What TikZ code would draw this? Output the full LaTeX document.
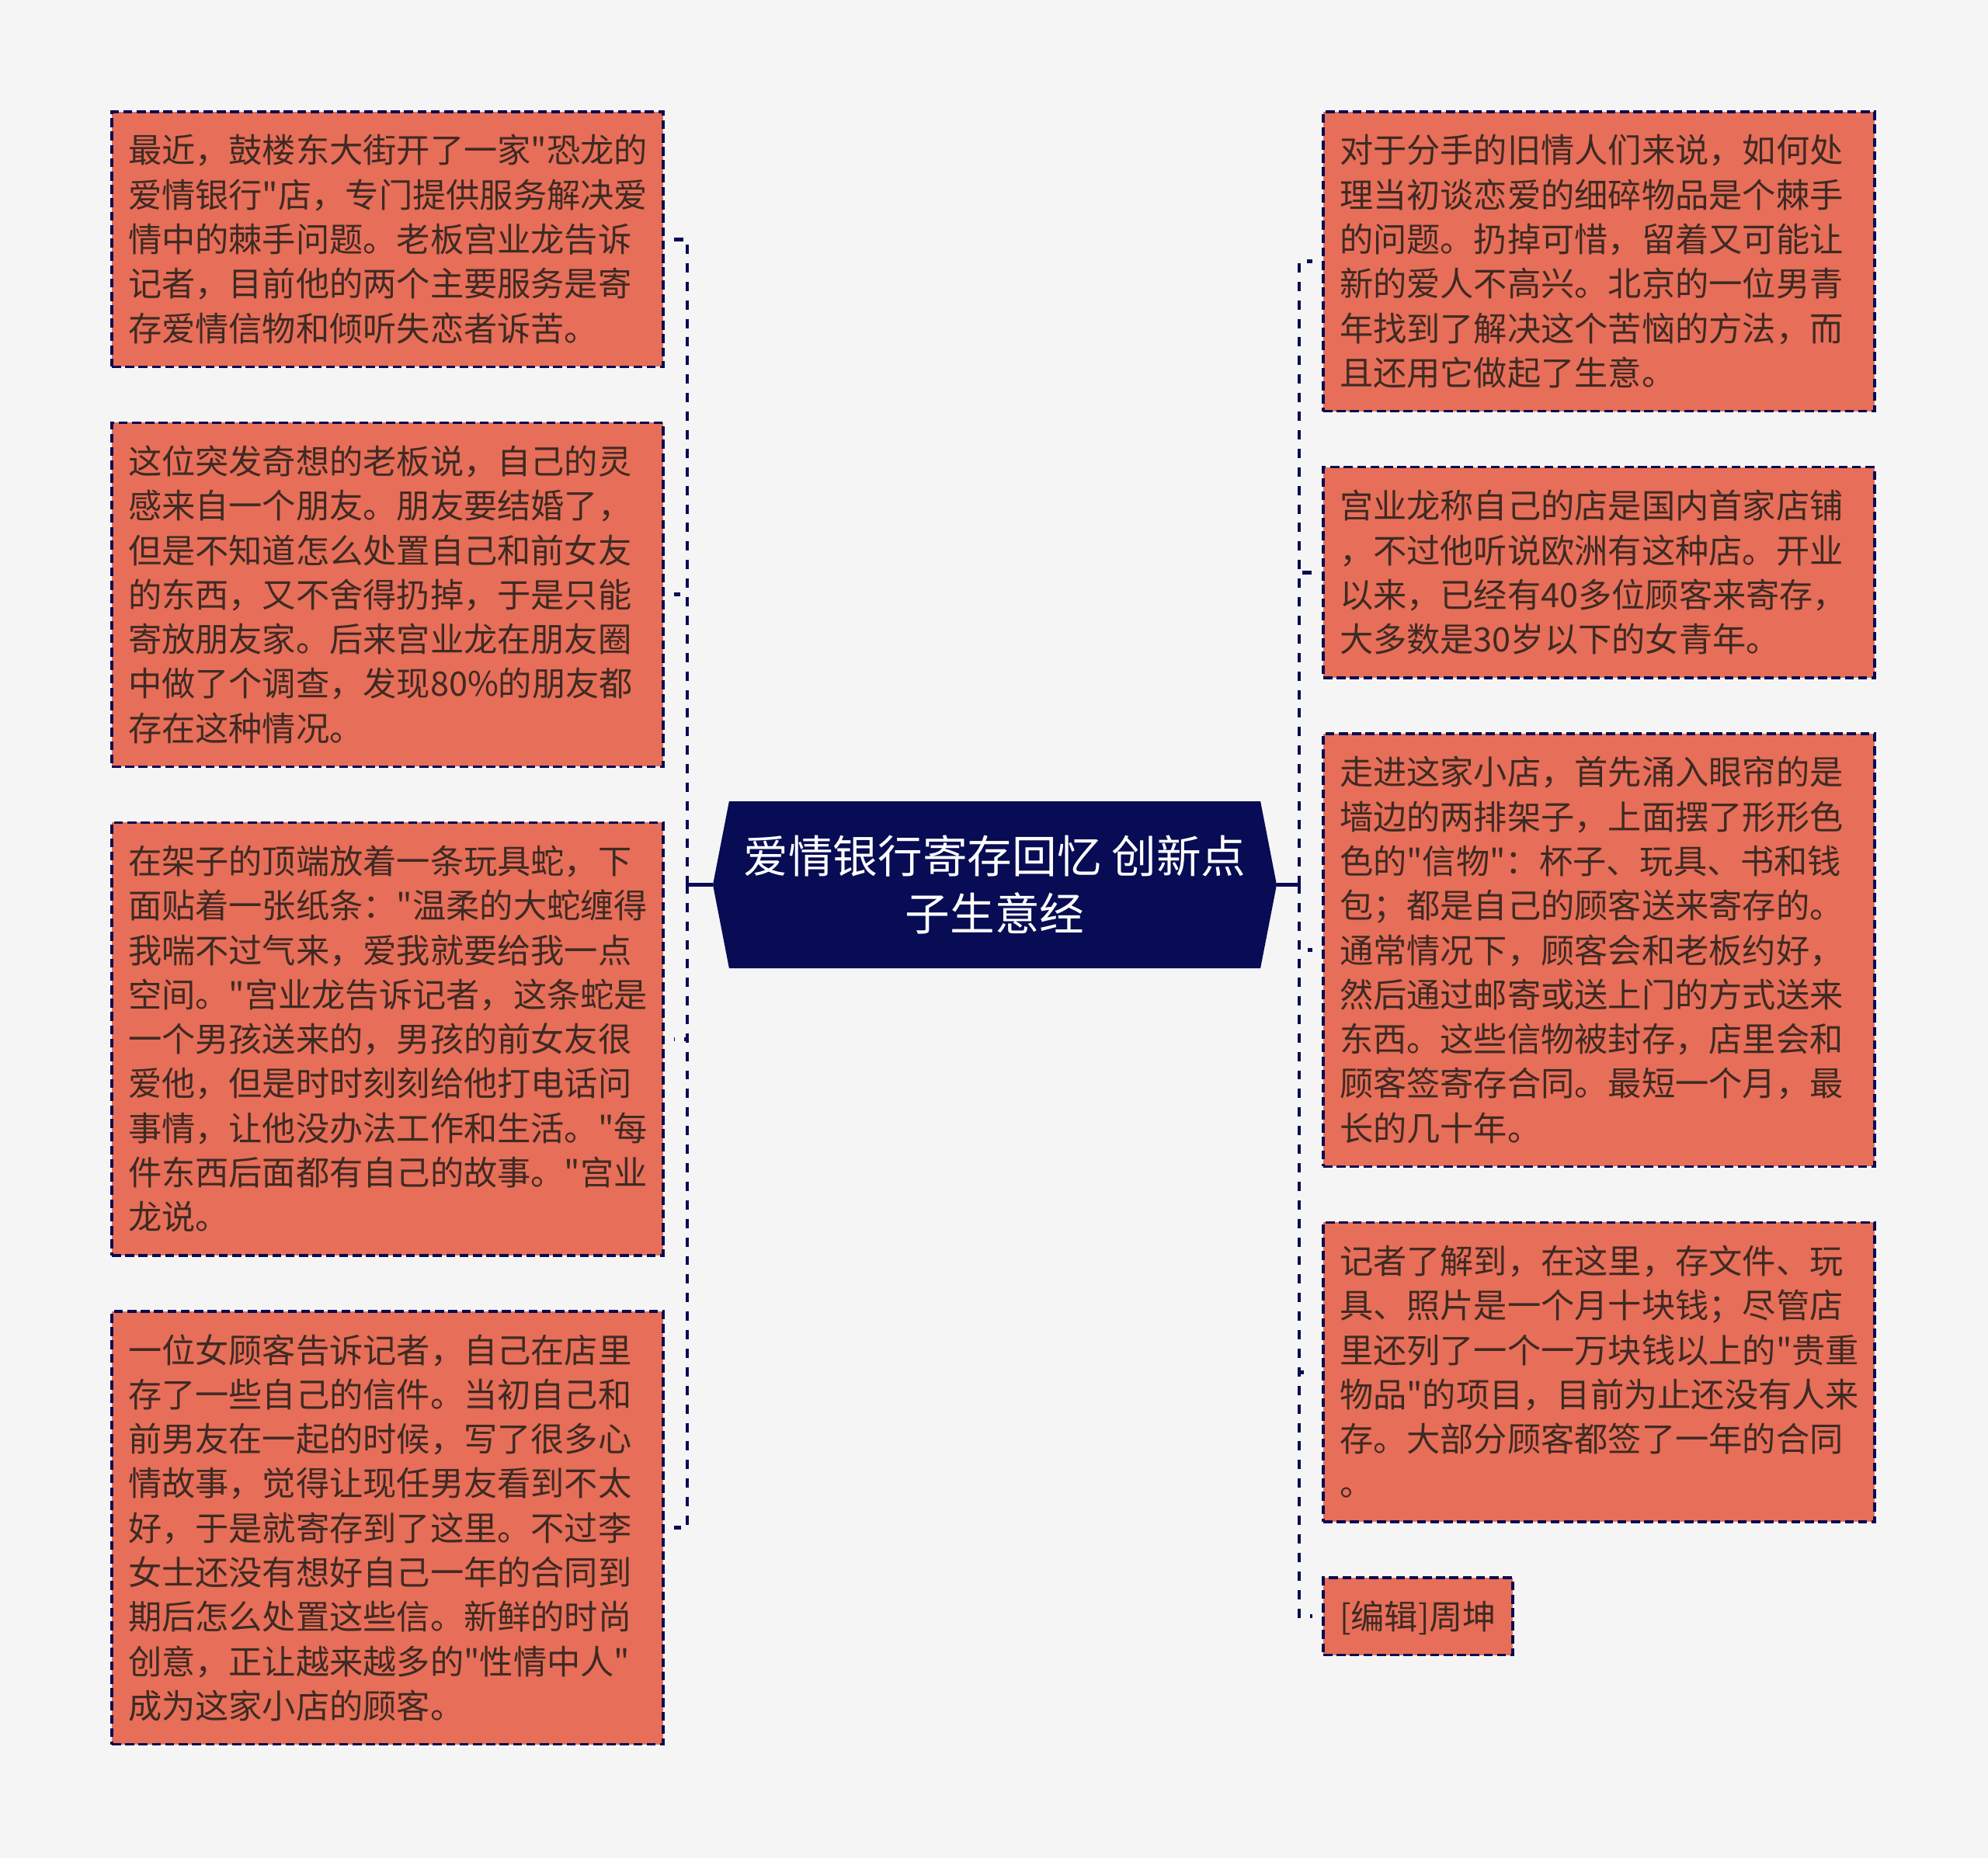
\documentclass[tikz,border=0pt]{standalone}
\usepackage{fontspec}
\newfontfamily\cjkfont{Noto Sans CJK SC}
\usetikzlibrary{positioning,shapes.symbols}
\definecolor{paper}{RGB}{245,245,245}
\definecolor{navy}{RGB}{7,12,84}
\definecolor{salmon}{RGB}{231,110,88}
\definecolor{ink}{RGB}{62,42,36}
\newcommand{\boxstrut}{\rule[-3.5pt]{0pt}{16.3pt}}

\begin{document}
\begin{tikzpicture}[
    card/.style={draw=navy, line width=1pt, dash pattern=on 3.3pt off 1.6pt,
                 fill=salmon, text=ink, inner sep=0.21cm, outer sep=0pt,
                 text width=6.68cm, align=left,
                 font=\cjkfont\fontsize{12.3pt}{16.3pt}\selectfont,
                 execute at begin node=\boxstrut, execute at end node=\boxstrut},
    hub/.style={signal, signal to=east and west, signal pointer angle=158,
                fill=navy, text=white, minimum width=7.26cm, minimum height=2.15cm,
                inner sep=0pt, outer sep=0pt, align=center,
                font=\cjkfont\fontsize{16.4pt}{20.9pt}\selectfont},
    stem/.style={navy, line width=1.4pt},
    link/.style={navy, line width=1.4pt, dash pattern=on 3.4pt off 3.4pt, shorten >=0.14cm},
    node distance=0.72cm]

    \fill[paper] (0,0) rectangle (25.6,-23.93);

    % ── centre ───────────────────────────────────────────────
    \node[hub] (hub) at (12.81,-11.395) {爱情银行寄存回忆 创新点\\子生意经};

    % ── left column ──────────────────────────────────────────
    \node[card, anchor=north west] (l1) at (1.44,-1.44)
      {最近，鼓楼东大街开了一家"恐龙的\\爱情银行"店，专门提供服务解决爱\\情中的棘手问题。老板宫业龙告诉\\记者，目前他的两个主要服务是寄\\存爱情信物和倾听失恋者诉苦。};
    \node[card, below=of l1] (l2)
      {这位突发奇想的老板说，自己的灵\\感来自一个朋友。朋友要结婚了，\\但是不知道怎么处置自己和前女友\\的东西，又不舍得扔掉，于是只能\\寄放朋友家。后来宫业龙在朋友圈\\中做了个调查，发现80\%的朋友都\\存在这种情况。};
    \node[card, below=of l2] (l3)
      {在架子的顶端放着一条玩具蛇，下\\面贴着一张纸条："温柔的大蛇缠得\\我喘不过气来，爱我就要给我一点\\空间。"宫业龙告诉记者，这条蛇是\\一个男孩送来的，男孩的前女友很\\爱他，但是时时刻刻给他打电话问\\事情，让他没办法工作和生活。"每\\件东西后面都有自己的故事。"宫业\\龙说。};
    \node[card, below=of l3] (l4)
      {一位女顾客告诉记者，自己在店里\\存了一些自己的信件。当初自己和\\前男友在一起的时候，写了很多心\\情故事，觉得让现任男友看到不太\\好，于是就寄存到了这里。不过李\\女士还没有想好自己一年的合同到\\期后怎么处置这些信。新鲜的时尚\\创意，正让越来越多的"性情中人"\\成为这家小店的顾客。};

    % ── right column ─────────────────────────────────────────
    \node[card, anchor=north west] (r1) at (17.04,-1.44)
      {对于分手的旧情人们来说，如何处\\理当初谈恋爱的细碎物品是个棘手\\的问题。扔掉可惜，留着又可能让\\新的爱人不高兴。北京的一位男青\\年找到了解决这个苦恼的方法，而\\且还用它做起了生意。};
    \node[card, below=of r1] (r2)
      {宫业龙称自己的店是国内首家店铺\\，不过他听说欧洲有这种店。开业\\以来，已经有40多位顾客来寄存，\\大多数是30岁以下的女青年。};
    \node[card, below=of r2] (r3)
      {走进这家小店，首先涌入眼帘的是\\墙边的两排架子，上面摆了形形色\\色的"信物"：杯子、玩具、书和钱\\包；都是自己的顾客送来寄存的。\\通常情况下，顾客会和老板约好，\\然后通过邮寄或送上门的方式送来\\东西。这些信物被封存，店里会和\\顾客签寄存合同。最短一个月，最\\长的几十年。};
    \node[card, below=of r3] (r4)
      {记者了解到，在这里，存文件、玩\\具、照片是一个月十块钱；尽管店\\里还列了一个一万块钱以上的"贵重\\物品"的项目，目前为止还没有人来\\存。大部分顾客都签了一年的合同\\。};
    \node[card, text width=2.02cm, below=of r4.south west, anchor=north west] (r5)
      {[编辑]周坤};

    % ── connectors ───────────────────────────────────────────
    \coordinate (lbus) at ([xshift=-0.33cm]hub.west);
    \coordinate (rbus) at ([xshift=0.29cm]hub.east);
    \draw[stem] (hub.west) -- (lbus);
    \draw[stem] (hub.east) -- (rbus);
    \foreach \n in {l1,l2,l3,l4}
      \draw[link] (lbus) |- (\n.east);
    \foreach \n in {r1,r2,r3,r4,r5}
      \draw[link] (rbus) |- (\n.west);

\end{tikzpicture}
\end{document}
